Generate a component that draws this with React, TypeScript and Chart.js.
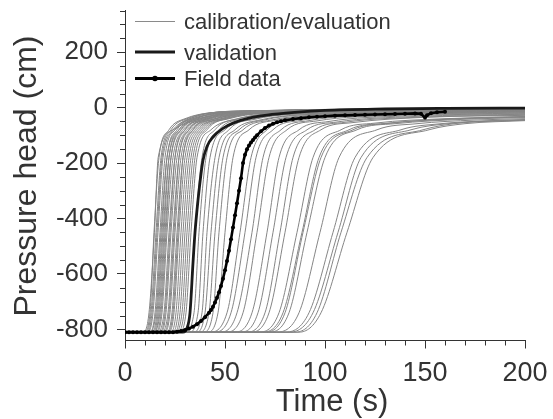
import React, { useEffect, useRef } from 'react';
import { Chart, registerables } from 'chart.js';

Chart.register(...registerables);

const BASE = -810;

// Each calibration/evaluation run as [t, h, t, h, ...], starting from BASE at t=0
const GREY_CURVES: number[][] = [
  [9, -810, 12, -740, 14.7, -450, 16.6, -180, 24, -80, 34, -45, 60, -18, 200, -6],
  [9.5, -810, 12.5, -740, 14.5, -450, 17, -180, 22, -80, 30, -40, 55, -15, 200, -5],
  [10, -810, 13, -740, 15.5, -450, 18, -180, 23, -80, 31, -40, 55, -14, 200, -4],
  [11, -810, 13.5, -740, 16, -450, 18.5, -180, 24, -80, 33, -42, 60, -16, 200, -6],
  [11, -810, 14, -740, 16.5, -450, 19, -180, 25, -80, 34, -40, 62, -14, 200, -5],
  [12, -810, 15, -740, 17.5, -450, 20, -180, 25, -80, 33, -38, 60, -12, 200, -4],
  [12, -810, 15.5, -740, 18, -450, 21, -180, 27, -80, 37, -42, 65, -16, 200, -7],
  [13, -810, 16, -740, 18.5, -450, 21, -180, 26, -80, 34, -36, 60, -12, 200, -3],
  [13.5, -810, 16.5, -740, 19, -450, 22, -180, 28, -80, 38, -40, 65, -15, 200, -6],
  [14, -810, 17, -740, 19.5, -450, 22, -180, 27, -80, 36, -38, 62, -13, 200, -4],
  [14, -810, 17.5, -740, 20, -450, 23, -180, 29, -80, 40, -42, 70, -18, 200, -8],
  [15, -810, 18, -740, 20.5, -450, 23, -180, 28, -80, 37, -36, 62, -12, 200, -3],
  [15.5, -810, 18.5, -740, 21, -450, 24, -180, 30, -80, 40, -40, 70, -16, 200, -6],
  [16, -810, 19.5, -740, 22, -450, 25, -180, 31, -80, 42, -42, 72, -18, 200, -9],
  [17, -810, 20, -740, 22.5, -450, 25, -180, 30, -80, 39, -36, 65, -12, 200, -4],
  [17.5, -810, 20.5, -740, 23, -450, 26, -180, 32, -80, 42, -40, 72, -16, 200, -6],
  [18, -810, 21.5, -740, 24, -450, 27, -180, 33, -80, 44, -42, 75, -18, 200, -8],
  [19, -810, 22, -740, 24.5, -450, 27, -180, 32, -80, 41, -36, 68, -12, 200, -3],
  [19.5, -810, 22.5, -740, 25, -450, 28, -180, 34, -80, 45, -40, 75, -16, 200, -7],
  [20.5, -810, 23.5, -740, 26, -450, 29, -180, 35, -80, 46, -40, 78, -16, 200, -6],
  [21, -810, 24, -740, 26.5, -450, 29, -180, 34, -80, 43, -36, 70, -12, 200, -4],
  [21.5, -810, 24.5, -740, 27, -450, 30, -180, 36, -80, 48, -42, 80, -18, 200, -9],
  [22.5, -810, 25.5, -740, 28, -450, 31, -180, 37, -80, 48, -40, 80, -16, 200, -6],
  [23.5, -810, 26.5, -740, 29, -450, 32, -180, 38, -80, 49, -38, 80, -14, 200, -5],
  [24.5, -810, 27.5, -740, 30, -450, 33, -180, 39, -80, 50, -40, 82, -16, 200, -7],
  [25, -810, 28.5, -740, 31, -450, 34, -180, 40, -80, 52, -40, 85, -17, 200, -8],
  [26, -810, 29.5, -740, 32, -450, 35, -180, 41, -80, 52, -38, 85, -14, 200, -5],
  [27, -810, 30.5, -740, 33, -450, 36, -180, 43, -80, 55, -42, 90, -18, 200, -10],
  [28.5, -810, 32.5, -740, 35, -450, 38.5, -180, 45, -80, 57, -40, 90, -17, 200, -8],
  [30, -810, 34.5, -740, 37, -450, 40.5, -180, 47, -80, 60, -40, 95, -17, 200, -9],
  [32, -810, 36.5, -740, 39, -450, 42.5, -180, 50, -80, 63, -42, 100, -20, 200, -11],
  [34, -810, 38.5, -740, 41, -450, 45, -180, 52, -80, 65, -42, 100, -20, 200, -10],
  [35.5, -810, 40, -740, 43, -450, 47, -180, 55, -80, 68, -44, 105, -22, 200, -12],
  [37, -810, 42, -740, 45, -450, 49, -180, 57, -80, 70, -44, 105, -22, 200, -13],
  [39, -810, 44, -740, 47, -450, 51, -180, 59, -80, 73, -45, 110, -24, 200, -14],
  [41, -810, 46.5, -740, 50, -450, 54, -180, 62, -80, 76, -45, 110, -24, 200, -14],
  [42, -810, 51, -740, 57.5, -450, 63, -180, 71, -80, 85, -45, 120, -25, 200, -15],
  [44, -810, 53, -740, 60, -450, 65.5, -180, 74, -80, 88, -46, 125, -26, 200, -16],
  [47, -810, 56, -740, 63.5, -450, 69, -180, 78, -80, 92, -47, 130, -27, 200, -18],
  [50, -810, 59, -740, 66, -450, 72, -180, 81, -80, 96, -48, 135, -28, 200, -20],
  [54, -810, 63.5, -740, 71, -450, 77, -180, 87, -80, 102, -50, 140, -30, 200, -22],
  [57, -810, 66.5, -740, 74, -450, 80.5, -180, 91, -80, 106, -52, 145, -32, 200, -24],
  [60, -810, 70, -740, 77.5, -450, 84, -180, 95, -80, 110, -53, 150, -34, 200, -26],
  [62, -810, 72, -740, 80, -450, 87, -180, 98, -80, 114, -54, 150, -35, 200, -28],
  [66, -810, 77, -740, 86, -450, 94, -180, 108, -80, 125, -56, 160, -40, 200, -32],
  [68, -810, 79, -740, 88.5, -450, 97, -180, 112, -80, 130, -57, 165, -41, 200, -34],
  [69, -810, 80, -740, 89, -450, 98, -180, 114, -80, 132, -57, 165, -40, 200, -33],
  [71, -810, 82, -740, 91, -450, 100, -180, 116, -80, 135, -58, 170, -42, 200, -36],
  [75, -810, 87, -740, 97.5, -450, 107, -180, 126, -80, 146, -58, 175, -45, 200, -40],
  [80, -810, 92, -740, 104, -450, 115, -180, 138, -80, 158, -58, 180, -48, 200, -43],
  [82, -810, 94, -740, 106.5, -450, 118, -180, 143, -80, 163, -57, 200, -45],
  [85, -810, 96, -740, 108, -450, 121, -180, 149, -80, 167, -56, 200, -45],
  [87, -810, 98, -740, 111, -450, 124, -180, 152, -80, 170, -58, 200, -47],
];

const VAL_T = [0, 29, 31, 32.5, 34, 35, 36.5, 38, 39, 41, 44, 49, 54, 62, 71, 85, 100, 130, 160, 200];
const VAL_H = [-810, -810, -795, -740, -560, -450, -334, -240, -190, -140, -106, -75, -56, -38, -27, -17, -10, -5, -3, -2];

const FIELD_T = [0, 2, 4, 6, 8, 10, 12, 14, 16, 18, 20, 22, 24, 26, 28, 30, 32, 34, 36, 38, 40, 42, 43, 44, 45, 46, 47, 48, 49, 50, 51, 52, 53, 54, 55, 56, 57, 58, 59, 60, 61, 62, 63, 64, 65, 66, 68, 70, 72, 74, 76, 78, 80, 84, 88, 92, 96, 100, 105, 110, 115, 120, 125, 130, 135, 140, 145, 148, 150, 151, 153, 156, 160];
const FIELD_H = [-810, -810, -810, -810, -810, -810, -810, -810, -810, -810, -810, -810, -810, -808, -806, -802, -797, -790, -781, -770, -756, -740, -730, -718, -703, -686, -666, -643, -617, -587, -553, -516, -475, -432, -388, -345, -300, -255, -200, -170, -150, -137, -126, -117, -108, -100, -85, -74, -65, -58, -53, -49, -46, -41, -38, -35, -33, -31, -29, -28, -27, -26, -25, -24, -23, -22, -21, -22, -36, -28, -20, -17, -15];

const X_TICKS = [0, 50, 100, 150, 200];
const Y_TICKS = [-800, -600, -400, -200, 0, 200];
const X_TITLE = 'Time (s)';
const Y_TITLE = 'Pressure head (cm)';
const LEGEND_LABELS = ['calibration/evaluation', 'validation', 'Field data'];

const FONT = "'Liberation Sans', Arial, sans-serif";
const TEXT = '#333';

export default function App() {
  const ref = useRef<HTMLCanvasElement | null>(null);

  useEffect(() => {
    if (!ref.current) return;

    const greySets = GREY_CURVES.map((c) => {
      const pts = [{ x: 0, y: BASE }];
      for (let i = 0; i < c.length; i += 2) pts.push({ x: c[i], y: c[i + 1] });
      return {
        data: pts,
        borderColor: '#858585',
        borderWidth: 1,
        pointRadius: 0,
        cubicInterpolationMode: 'monotone' as const,
        order: 3,
      };
    });

    const overlay = {
      id: 'overlay',
      afterDraw(chart: any) {
        const { ctx } = chart;
        const xs = chart.scales.x;
        const ys = chart.scales.y;
        const area = chart.chartArea;
        ctx.save();
        // minor ticks
        ctx.strokeStyle = TEXT;
        ctx.lineWidth = 1;
        ctx.beginPath();
        for (let v = 0; v <= 200; v += 10) {
          if (v % 50 === 0) continue;
          const px = Math.round(xs.getPixelForValue(v)) + 0.5;
          ctx.moveTo(px, area.bottom);
          ctx.lineTo(px, area.bottom + 5);
        }
        for (let v = -800; v <= 350; v += 50) {
          if (v % 200 === 0) continue;
          const py = Math.round(ys.getPixelForValue(v)) + 0.5;
          ctx.moveTo(area.left - 5, py);
          ctx.lineTo(area.left, py);
        }
        ctx.stroke();

        // axis titles
        ctx.fillStyle = TEXT;
        ctx.textAlign = 'center';
        ctx.textBaseline = 'middle';
        ctx.font = `31px ${FONT}`;
        ctx.fillText(X_TITLE, 332, 402);
        ctx.save();
        ctx.translate(27, 176);
        ctx.rotate(-Math.PI / 2);
        ctx.font = `32px ${FONT}`;
        ctx.fillText(Y_TITLE, 0, 0);
        ctx.restore();

        // legend
        const rows = [21, 52, 78.5];
        ctx.font = `22px ${FONT}`;
        ctx.textAlign = 'left';
        // calibration
        ctx.strokeStyle = '#8a8a8a';
        ctx.lineWidth = 1;
        ctx.beginPath();
        ctx.moveTo(135, rows[0] + 0.5);
        ctx.lineTo(175, rows[0] + 0.5);
        ctx.stroke();
        // validation
        ctx.strokeStyle = '#1a1a1a';
        ctx.lineWidth = 3;
        ctx.beginPath();
        ctx.moveTo(135, rows[1]);
        ctx.lineTo(175, rows[1]);
        ctx.stroke();
        // field data
        ctx.strokeStyle = '#000';
        ctx.lineWidth = 3;
        ctx.beginPath();
        ctx.moveTo(135, rows[2]);
        ctx.lineTo(175, rows[2]);
        ctx.stroke();
        ctx.fillStyle = '#000';
        ctx.beginPath();
        ctx.arc(155, rows[2], 2.8, 0, Math.PI * 2);
        ctx.fill();

        ctx.fillStyle = TEXT;
        LEGEND_LABELS.forEach((t, i) => ctx.fillText(t, 184, rows[i] + 1.5));
        ctx.restore();
      },
    };

    const chart = new Chart(ref.current, {
      type: 'line',
      data: {
        datasets: [
          {
            data: FIELD_T.map((t, i) => ({ x: t, y: FIELD_H[i] })),
            borderColor: '#000',
            backgroundColor: '#000',
            borderWidth: 2.6,
            pointRadius: 2,
            pointBorderWidth: 0,
            pointBackgroundColor: '#000',
            tension: 0,
            order: 1,
          },
          {
            data: VAL_T.map((t, i) => ({ x: t, y: VAL_H[i] })),
            borderColor: '#1a1a1a',
            borderWidth: 2.8,
            pointRadius: 0,
            cubicInterpolationMode: 'monotone',
            order: 2,
          },
          ...greySets,
        ] as any,
      },
      options: {
        animation: false,
        responsive: false,
        maintainAspectRatio: false,
        devicePixelRatio: 1,
        layout: { padding: { left: 0, right: 28, top: 10, bottom: 0 } },
        plugins: {
          legend: { display: false },
          tooltip: { enabled: false },
          title: { display: false },
        },
        scales: {
          x: {
            type: 'linear',
            min: 0,
            max: 200,
            afterBuildTicks: (s: any) => {
              s.ticks = X_TICKS.map((v) => ({ value: v }));
            },
            afterFit: (s: any) => {
              s.height = 78.5;
              s.paddingLeft = 0;
              s.paddingRight = 0;
            },
            ticks: {
              color: TEXT,
              font: { family: FONT, size: 27 },
              padding: 9,
              maxRotation: 0,
            },
            grid: { display: true, drawOnChartArea: false, drawTicks: true, tickLength: 8, color: TEXT },
            border: { display: true, color: TEXT, width: 1 },
          },
          y: {
            type: 'linear',
            min: -840,
            max: 352,
            afterBuildTicks: (s: any) => {
              s.ticks = Y_TICKS.map((v) => ({ value: v }));
            },
            afterFit: (s: any) => {
              s.width = 125;
              s.paddingTop = 0;
              s.paddingBottom = 0;
            },
            ticks: {
              color: TEXT,
              font: { family: FONT, size: 26 },
              padding: 9,
            },
            grid: { display: true, drawOnChartArea: false, drawTicks: true, tickLength: 8, color: TEXT },
            border: { display: true, color: TEXT, width: 1 },
          },
        },
      },
      plugins: [overlay],
    });

    return () => chart.destroy();
  }, []);

  return (
    <div style={{ position: 'fixed', left: 0, top: 0, width: 553, height: 419, background: '#fff' }}>
      <canvas ref={ref} width={553} height={419} style={{ display: 'block' }} />
    </div>
  );
}
